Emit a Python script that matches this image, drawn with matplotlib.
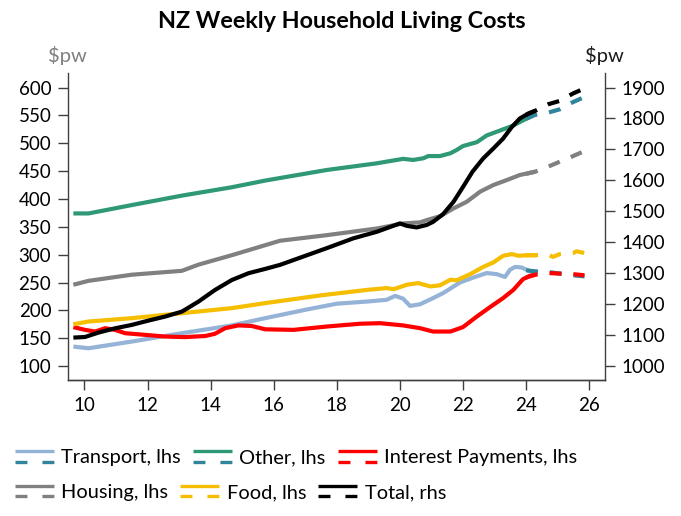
import matplotlib
matplotlib.use("Agg")
import matplotlib.pyplot as plt
from matplotlib.lines import Line2D
from matplotlib.legend_handler import HandlerBase

plt.rcParams['font.family'] = ['Lato', 'DejaVu Sans']
plt.rcParams['lines.scale_dashes'] = False

# ---------------- data (years, 10 = 2010) ----------------
transport_x = [9.65, 10.13, 11.5, 13.09, 14.67, 15.73, 17.0, 18.0, 19.0, 19.58, 19.85, 20.1, 20.32, 20.64,
               21.05, 21.37, 21.9, 22.33, 22.75, 23.07, 23.33, 23.49, 23.65, 23.86, 24.12, 24.29]
transport_y = [135, 132, 144, 159, 173, 186, 201, 212, 216, 219, 226, 221, 208, 211,
               222, 231, 250, 259, 267, 265, 260, 273, 278, 277, 270, 270]
transport_fx = [24.0, 24.29, 24.7, 25.07, 25.49, 25.85]
transport_fy = [272, 270, 269, 266, 263, 261]

other_x = [9.65, 10.13, 11.5, 13.09, 14.67, 15.73, 17.68, 19.27, 20.1, 20.42, 20.74, 20.9, 21.27, 21.6,
           21.8, 22.0, 22.44, 22.75, 23.18, 23.6, 23.9, 24.22]
other_y = [374, 374, 389, 406, 421, 433, 452, 464, 472, 470, 473, 477, 477, 482,
           488, 495, 502, 514, 523, 532, 541, 550]
other_fx = [24.0, 24.29, 24.7, 25.07, 25.49, 25.85]
other_fy = [544, 551, 555, 561, 574, 583]

interest_x = [9.65, 10.02, 10.34, 10.66, 10.97, 11.29, 11.93, 12.56, 13.19, 13.83, 14.14, 14.46, 14.88,
              15.3, 15.73, 16.63, 17.68, 18.74, 19.37, 20.1, 20.64, 21.05, 21.6, 22.0, 22.44, 22.86,
              23.27, 23.6, 23.9, 24.12, 24.29]
interest_y = [170, 165, 162, 168, 165, 159, 156, 153, 152, 154, 158, 168, 173,
              172, 166, 165, 171, 176, 177, 173, 168, 162, 162, 170, 189, 206,
              222, 237, 256, 262, 264]
interest_fx = [24.0, 24.29, 24.7, 25.07, 25.49, 25.85]
interest_fy = [259, 264, 267, 266, 265, 263]

housing_x = [9.65, 10.13, 11.5, 13.09, 13.61, 14.67, 15.73, 16.2, 17.68, 19.27, 20.1, 20.64, 20.85,
             21.27, 21.7, 22.12, 22.54, 22.96, 23.39, 23.8, 24.29]
housing_y = [246, 253, 264, 271, 282, 299, 317, 325, 335, 347, 356, 358, 362,
             369, 383, 395, 413, 425, 434, 443, 449]
housing_fx = [24.0, 24.29, 24.7, 25.07, 25.49, 25.85]
housing_fy = [445, 449, 458, 467, 477, 486]

food_x = [9.65, 10.13, 11.5, 13.09, 14.67, 15.73, 17.5, 19.0, 19.58, 19.8, 20.22, 20.58, 20.96, 21.27,
          21.6, 21.8, 22.23, 22.64, 22.96, 23.27, 23.55, 23.76, 24.02, 24.29]
food_y = [175, 180, 186, 195, 204, 213, 227, 237, 240, 238, 246, 249, 243, 245,
          255, 254, 265, 278, 286, 298, 301, 298, 299, 299]
food_fx = [24.0, 24.29, 24.7, 24.85, 25.07, 25.49, 25.6, 25.85]
food_fy = [299, 299, 300, 296, 301, 303, 306, 303]

total_x = [9.65, 10.02, 10.44, 10.97, 11.5, 12.03, 12.56, 13.09, 13.61, 14.14, 14.67, 15.2, 15.73,
           16.2, 16.94, 17.68, 18.53, 19.27, 20.0, 20.22, 20.53, 20.85, 21.05, 21.37, 21.7, 22.0,
           22.3, 22.64, 22.96, 23.27, 23.55, 23.8, 24.07, 24.29]
total_y = [1092, 1094, 1108, 1122, 1133, 1147, 1160, 1176, 1208, 1246, 1278, 1300, 1314,
           1327, 1354, 1381, 1413, 1434, 1461, 1453, 1448, 1456, 1466, 1491, 1531, 1579,
           1628, 1671, 1703, 1735, 1773, 1800, 1816, 1825]
total_fx = [24.0, 24.29, 24.7, 25.07, 25.49, 25.85]
total_fy = [1812, 1825, 1846, 1857, 1881, 1897]

x_ticks = [10, 12, 14, 16, 18, 20, 22, 24, 26]
left_ticks = [100, 150, 200, 250, 300, 350, 400, 450, 500, 550, 600]
right_ticks = [1000, 1100, 1200, 1300, 1400, 1500, 1600, 1700, 1800, 1900]

labels = ["Transport, lhs", "Other, lhs", "Interest Payments, lhs",
          "Housing, lhs", "Food, lhs", "Total, rhs"]

# ---------------- styles ----------------
C_TRANS = "#95B3D7"
C_OTHER = "#2E9877"
C_INT = "#FF0000"
C_HOUS = "#808080"
C_FOOD = "#F5BE00"
C_TOT = "#000000"
C_TEAL = "#31849B"
LW = 3.0
DASH = (0, (8.6, 8.6))

fig = plt.figure(figsize=(6.81, 5.16), dpi=100)
ax = fig.add_axes([68 / 681, (516 - 380) / 516, (605 - 68) / 681, (380 - 72.5) / 516])
ax2 = ax.twinx()

series = [
    (ax, transport_x, transport_y, transport_fx, transport_fy, C_TRANS, C_TEAL),
    (ax, other_x, other_y, other_fx, other_fy, C_OTHER, C_TEAL),
    (ax, interest_x, interest_y, interest_fx, interest_fy, C_INT, C_INT),
    (ax, housing_x, housing_y, housing_fx, housing_fy, C_HOUS, C_HOUS),
    (ax, food_x, food_y, food_fx, food_fy, C_FOOD, C_FOOD),
]
for a, x, y, fx, fy, c, fc in series:
    a.plot(x, y, color=c, lw=LW, solid_capstyle='butt')
for a, x, y, fx, fy, c, fc in series:
    a.plot(fx, fy, color=fc, lw=LW, linestyle=DASH, dash_capstyle='butt')

ax2.plot(total_x, total_y, color=C_TOT, lw=LW, solid_capstyle='butt')
ax2.plot(total_fx, total_fy, color=C_TOT, lw=LW, linestyle=DASH, dash_capstyle='butt')

ax.set_xlim(9.48, 26.5)
ax.set_ylim(75, 627)
ax2.set_ylim(1000 + (75 - 100) * 1.8, 1000 + (627 - 100) * 1.8)

ax.set_xticks(x_ticks)
ax.set_yticks(left_ticks)
ax2.set_yticks(right_ticks)

spine_col = "#404040"
for a in (ax, ax2):
    a.spines['top'].set_visible(False)
    for s in ('left', 'right', 'bottom'):
        a.spines[s].set_color(spine_col)
        a.spines[s].set_linewidth(1.0)
    a.tick_params(direction='out', length=7, width=1.0, color=spine_col,
                  labelsize=13.5, labelcolor='black', pad=5)
ax.spines['right'].set_visible(False)
ax2.spines['left'].set_visible(False)
ax.patch.set_visible(False)

fig.text(341.5 / 681, 1 - 21 / 516, "NZ Weekly Household Living Costs",
         ha='center', va='center', fontsize=16.8, fontweight='bold')
fig.text(67 / 681, 1 - 55.5 / 516, "$pw", ha='center', va='center', fontsize=14.5, color='#7f7f7f')
fig.text(604.5 / 681, 1 - 55.5 / 516, "$pw", ha='center', va='center', fontsize=14.5, color='#1a1a1a')


# ---------------- legend with two-line handles ----------------
class Pair:
    def __init__(self, c1, c2):
        self.c1, self.c2 = c1, c2


class PairHandler(HandlerBase):
    def create_artists(self, legend, orig, xdescent, ydescent, width, height, fontsize, trans):
        yc = -ydescent + height / 2.0
        x0, x1 = -xdescent, -xdescent + width
        l1 = Line2D([x0, x1], [yc + 3.9, yc + 3.9], color=orig.c1, lw=2.4, solid_capstyle='butt',
                    transform=trans)
        l2 = Line2D([x0, x1], [yc - 3.9, yc - 3.9], color=orig.c2, lw=2.4,
                    linestyle=(0, (8.6, 10.8)), dash_capstyle='butt', transform=trans)
        return [l1, l2]


pairs = [Pair(C_TRANS, C_TEAL), Pair(C_OTHER, C_TEAL), Pair(C_INT, C_INT),
         Pair(C_HOUS, C_HOUS), Pair(C_FOOD, C_FOOD), Pair(C_TOT, C_TOT)]

common = dict(frameon=False, fontsize=14.4, handlelength=28.0 / 14.4, handletextpad=0.36,
              columnspacing=0.62, handler_map={Pair: PairHandler()}, ncol=3,
              borderaxespad=0, borderpad=0)
leg1 = fig.legend(pairs[:3], labels[:3], loc='center left',
                  bbox_to_anchor=(15 / 681, 1 - 458 / 516), **common)
leg2 = fig.legend(pairs[3:], labels[3:], loc='center left',
                  bbox_to_anchor=(15 / 681, 1 - 492.5 / 516), **common)

fig.savefig("out.png", dpi=100)
